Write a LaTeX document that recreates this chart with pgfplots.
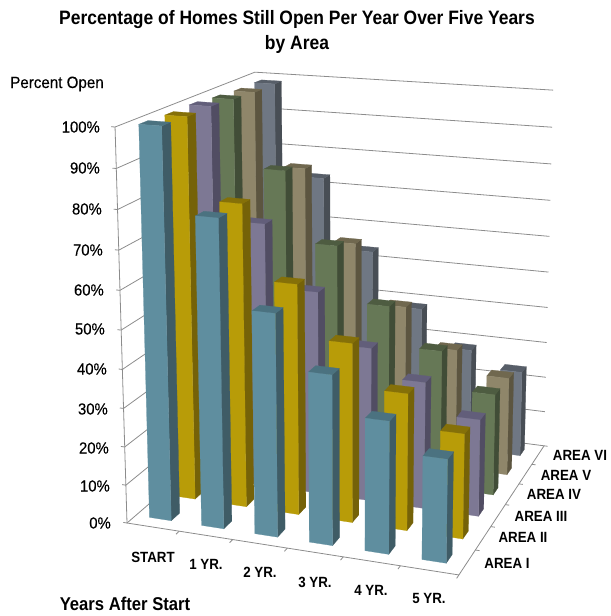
\documentclass[border=0pt]{standalone}
\usepackage{pgfplots}
\usepackage{pgfplotstable}
\usepackage{fontspec}
\setmainfont{Liberation Sans}
\newfontfamily\headfont[FakeStretch=0.9]{Liberation Sans}
\newfontfamily\scalefont[FakeStretch=0.93,FakeBold=0.25]{Liberation Sans}
\pgfplotsset{compat=1.18}

% Percent still open: one row per year, one column per area (I to VI)
\pgfplotstableread{
a b c d e f
100.0 99.7 99.8 99.2 98.7 98.7
78.8 79.0 70.5 81.3 78.9 73.2
56.8 60.0 54.0 62.5 59.5 53.6
43.2 46.5 40.8 47.7 43.4 38.7
33.5 35.4 33.5 37.2 33.0 28.5
26.0 27.0 25.5 27.2 26.9 23.9
}\homesopen

% Face colours of each area: front, side, top
\definecolor{front0}{HTML}{5F8E9F}\definecolor{side0}{HTML}{3F5C66}\definecolor{top0}{HTML}{4B7280}
\definecolor{front1}{HTML}{B89C08}\definecolor{side1}{HTML}{756208}\definecolor{top1}{HTML}{857008}
\definecolor{front2}{HTML}{7D7894}\definecolor{side2}{HTML}{514D63}\definecolor{top2}{HTML}{625E7A}
\definecolor{front3}{HTML}{667856}\definecolor{side3}{HTML}{414D37}\definecolor{top3}{HTML}{4E5C41}
\definecolor{front4}{HTML}{8F866A}\definecolor{side4}{HTML}{5C5540}\definecolor{top4}{HTML}{70684F}
\definecolor{front5}{HTML}{6F7783}\definecolor{side5}{HTML}{484E55}\definecolor{top5}{HTML}{575E68}
\definecolor{wall}{HTML}{8C8C8C}

% Perspective view of the box: u along the years, v along the areas, w up
\newcommand\proj[5]{%
  \pgfmathsetmacro\dn{1-0.0652*#1+0.1838*#2-0.05046*#3}%
  \pgfmathsetmacro#4{(127+302*#1+179.6*#2-17.76*#3)/\dn}%
  \pgfmathsetmacro#5{(523+14.48*#1-38.8*#2-402.4*#3)/\dn}%
}

% One cuboid: year index, area index, percent
\newcommand\drawbar[3]{%
  \pgfmathsetmacro\ua{(#1+0.5)/6-0.0395}%
  \pgfmathsetmacro\ub{\ua+0.07}%
  \pgfmathsetmacro\va{(#2)/6+0.058}%
  \pgfmathsetmacro\vb{\va+0.058}%
  \pgfmathsetmacro\ww{#3/100}%
  \proj{\ua}{\va}{0}\xa\ya \proj{\ub}{\va}{0}\xb\yb \proj{\ub}{\vb}{0}\xc\yc
  \proj{\ua}{\va}{\ww}\xd\yd \proj{\ub}{\va}{\ww}\xe\ye
  \proj{\ub}{\vb}{\ww}\xf\yf \proj{\ua}{\vb}{\ww}\xg\yg
  \edef\facecmd{%
    \noexpand\addplot[fill=side#2,draw=side#2,line width=0.25pt] coordinates {(\xb,\yb)(\xc,\yc)(\xf,\yf)(\xe,\ye)} --cycle;
    \noexpand\addplot[fill=top#2,draw=top#2,line width=0.25pt] coordinates {(\xd,\yd)(\xe,\ye)(\xf,\yf)(\xg,\yg)} --cycle;
    \noexpand\addplot[fill=front#2,draw=front#2,line width=0.25pt] coordinates {(\xa,\ya)(\xb,\yb)(\xe,\ye)(\xd,\yd)} --cycle;
  }\facecmd
}

% A straight axis line between two points of the box
\newcommand\boxline[6]{%
  \proj{#1}{#2}{#3}\xa\ya \proj{#4}{#5}{#6}\xb\yb
  \edef\linecmd{\noexpand\addplot[color=wall,line width=0.8pt] coordinates {(\xa,\ya)(\xb,\yb)};}\linecmd
}

% Text helpers, in picture coordinates
\newcommand\scalelabel[3]{\node[anchor=east,inner sep=0pt,font=\scalefont\fontsize{16}{18}\selectfont] at (axis cs:#1,#2) {#3\%};}
\newcommand\catlabel[3]{\node[font=\headfont\bfseries\fontsize{14.8}{17}\selectfont] at (axis cs:#1,#2) {#3};}

\begin{document}
\begin{tikzpicture}
\begin{axis}[
  scale only axis, width=607pt, height=616pt,
  xmin=0, xmax=607, ymin=0, ymax=616, y dir=reverse,
  axis line style={draw=none}, ticks=none, clip=false]

% walls, their grid lines and the scale ticks
\boxline{0}{0}{0}{0}{0}{1}
\pgfplotsforeachungrouped \k in {0,...,10}{%
  \pgfmathsetmacro\wk{\k/10}%
  \boxline{-0.012}{0}{\wk}{0}{0}{\wk}
  \boxline{0}{0}{\wk}{0}{1}{\wk}
  \boxline{0}{1}{\wk}{1}{1}{\wk}
}
% floor edges and their ticks
\boxline{0}{0}{0}{1}{0}{0}
\boxline{1}{0}{0}{1}{1}{0}
\pgfplotsforeachungrouped \k in {1,...,6}{%
  \pgfmathsetmacro\uk{\k/6}%
  \boxline{\uk}{0}{0}{\uk}{-0.022}{0}
  \boxline{1}{\uk}{0}{1.012}{\uk}{0}
}

% bars, from the back row forward and from left to right
\pgfplotsforeachungrouped \j in {5,4,...,0}{%
  \pgfplotsforeachungrouped \i in {0,...,5}{%
    \pgfplotstablegetelem{\i}{[index]\j}\of\homesopen
    \edef\val{\pgfplotsretval}%
    \drawbar{\i}{\j}{\val}
  }
}

% title and axis captions
\node[font=\headfont\bfseries\fontsize{19.4}{24.5}\selectfont,align=center] at (axis cs:297,32) {Percentage of Homes Still Open Per Year Over Five Years\\by Area};
\node[font=\scalefont\fontsize{16.3}{19}\selectfont] at (axis cs:57,84) {Percent Open};
\node[font=\headfont\bfseries\fontsize{18.5}{21}\selectfont] at (axis cs:125,604) {Years After Start};

% percent scale
\scalelabel{100}{127}{100}
\scalelabel{100}{168}{90}
\scalelabel{102}{209}{80}
\scalelabel{103}{250}{70}
\scalelabel{104}{290}{60}
\scalelabel{105}{329}{50}
\scalelabel{107}{369}{40}
\scalelabel{108}{409}{30}
\scalelabel{109}{448}{20}
\scalelabel{110}{486}{10}
\scalelabel{111}{523}{0}
% year names
\catlabel{153}{557}{START}
\catlabel{206}{564}{1 YR.}
\catlabel{260}{572}{2 YR.}
\catlabel{315}{582}{3 YR.}
\catlabel{371}{590}{4 YR.}
\catlabel{429}{598}{5 YR.}
% area names
\catlabel{507}{563}{AREA I}
\catlabel{523}{537}{AREA II}
\catlabel{541}{516}{AREA III}
\catlabel{554}{494}{AREA IV}
\catlabel{566}{475}{AREA V}
\catlabel{580}{455}{AREA VI}
\end{axis}
\end{tikzpicture}
\end{document}
